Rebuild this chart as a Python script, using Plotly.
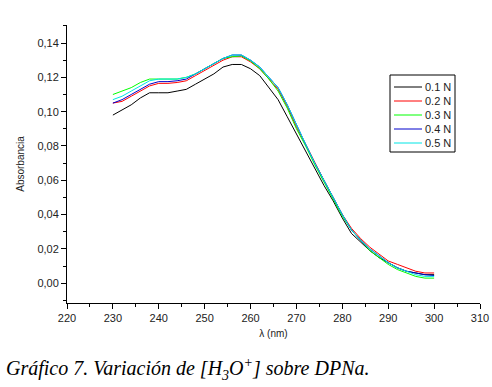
import plotly.graph_objects as go

wavelength = list(range(230, 301, 2))

a_01 = [0.098, 0.101, 0.104, 0.108, 0.111, 0.111, 0.111, 0.112, 0.113, 0.116,
        0.119, 0.122, 0.126, 0.1275, 0.1275, 0.125, 0.121, 0.114, 0.107, 0.097,
        0.087, 0.077, 0.067, 0.057, 0.048, 0.038, 0.029, 0.024, 0.019, 0.015,
        0.012, 0.009, 0.007, 0.006, 0.005, 0.005]
a_02 = [0.105, 0.106, 0.109, 0.112, 0.115, 0.1165, 0.1165, 0.117, 0.118, 0.121,
        0.124, 0.127, 0.130, 0.132, 0.132, 0.129, 0.125, 0.119, 0.113, 0.103,
        0.091, 0.081, 0.070, 0.060, 0.050, 0.040, 0.032, 0.026, 0.021, 0.017,
        0.013, 0.011, 0.009, 0.007, 0.006, 0.006]
a_03 = [0.110, 0.112, 0.114, 0.117, 0.119, 0.119, 0.119, 0.119, 0.120, 0.122,
        0.125, 0.128, 0.131, 0.132, 0.1325, 0.1295, 0.125, 0.119, 0.112, 0.102,
        0.090, 0.080, 0.069, 0.059, 0.049, 0.039, 0.031, 0.025, 0.019, 0.015,
        0.011, 0.008, 0.006, 0.004, 0.003, 0.003]
a_04 = [0.105, 0.107, 0.110, 0.113, 0.116, 0.1175, 0.1175, 0.118, 0.119, 0.122,
        0.125, 0.128, 0.131, 0.133, 0.133, 0.130, 0.126, 0.120, 0.114, 0.104,
        0.092, 0.081, 0.070, 0.060, 0.050, 0.040, 0.031, 0.025, 0.020, 0.016,
        0.012, 0.009, 0.007, 0.006, 0.005, 0.0045]
a_05 = [0.107, 0.109, 0.112, 0.115, 0.118, 0.119, 0.119, 0.119, 0.120, 0.122,
        0.125, 0.128, 0.131, 0.133, 0.133, 0.130, 0.126, 0.120, 0.114, 0.104,
        0.092, 0.081, 0.070, 0.060, 0.050, 0.040, 0.031, 0.025, 0.020, 0.016,
        0.012, 0.009, 0.007, 0.005, 0.004, 0.004]

series_names = ["0.1 N", "0.2 N", "0.3 N", "0.4 N", "0.5 N"]
series_values = [a_01, a_02, a_03, a_04, a_05]
series_colors = ["#000000", "#ff0000", "#00ff00", "#0000cc", "#00e5e5"]

W, H = 492, 387
ML, MR, MT = 67, 12, 25
MB = H - 303
PW, PH = W - ML - MR, H - MT - MB

def px_x(p):
    return (p - ML) / PW

def px_y(p):
    return (H - MB - p) / PH

fig = go.Figure()
for name, vals, col in zip(series_names, series_values, series_colors):
    fig.add_trace(go.Scatter(x=wavelength, y=vals, mode="lines", name=name,
                             line=dict(color=col, width=1), showlegend=False))

sans = "Liberation Sans, Arial, sans-serif"
axis_font = dict(family=sans, size=11, color="#222")

fig.update_layout(
    width=W, height=H,
    margin=dict(l=ML, r=MR, t=MT, b=MB, autoexpand=False),
    paper_bgcolor="white", plot_bgcolor="white",
    separators=",.",
    showlegend=False,
    xaxis=dict(range=[220, 310], dtick=10, tick0=220, showgrid=False, zeroline=False,
               showline=True, linecolor="black", linewidth=1, automargin=False,
               ticks="outside", ticklen=5, tickcolor="black", ticklabeloverflow="allow",
               minor=dict(dtick=5, ticks="outside", ticklen=3, tickcolor="black"),
               tickfont=axis_font,
               title=dict(text="λ (nm)", font=dict(family=sans, size=10, color="#222"),
                          standoff=6)),
    yaxis=dict(range=[-0.0115, 0.1505], dtick=0.02, tick0=0, tickformat=".2f",
               showgrid=False, zeroline=False, automargin=False,
               showline=True, linecolor="black", linewidth=1,
               ticks="outside", ticklen=5, tickcolor="black",
               minor=dict(dtick=0.01, ticks="outside", ticklen=3, tickcolor="black"),
               tickfont=axis_font,
               title=dict(text="Absorbancia", font=dict(family=sans, size=10, color="#222"),
                          standoff=10)),
)

# Legend box drawn by hand to match the compact spacing of the original
box_l, box_r, box_t, box_b = 390, 455, 75, 152
fig.add_shape(type="rect", xref="paper", yref="paper",
              x0=px_x(box_l), x1=px_x(box_r), y0=px_y(box_b), y1=px_y(box_t),
              line=dict(color="black", width=1), fillcolor="white", layer="above")
for i, (name, col) in enumerate(zip(series_names, series_colors)):
    yy = 87 + i * 14
    fig.add_shape(type="line", xref="paper", yref="paper",
                  x0=px_x(394), x1=px_x(422), y0=px_y(yy), y1=px_y(yy),
                  line=dict(color=col, width=1), layer="above")
    fig.add_annotation(text=name, xref="paper", yref="paper",
                       x=px_x(423), y=px_y(yy), xanchor="left", yanchor="middle",
                       showarrow=False, font=dict(family=sans, size=11, color="#222"))

fig.add_annotation(text="<i>Gráfico 7. Variación de [H<sub>3</sub>O<sup>+</sup>] sobre DPNa.</i>",
                   xref="paper", yref="paper", x=px_x(4), y=px_y(369),
                   xanchor="left", yanchor="middle", showarrow=False,
                   font=dict(family="Liberation Serif", size=20, color="black"))

fig.write_html("out.html",
               config={"displayModeBar": False, "staticPlot": True},
               post_script="document.body.style.margin='0';document.body.style.overflow='hidden';")
